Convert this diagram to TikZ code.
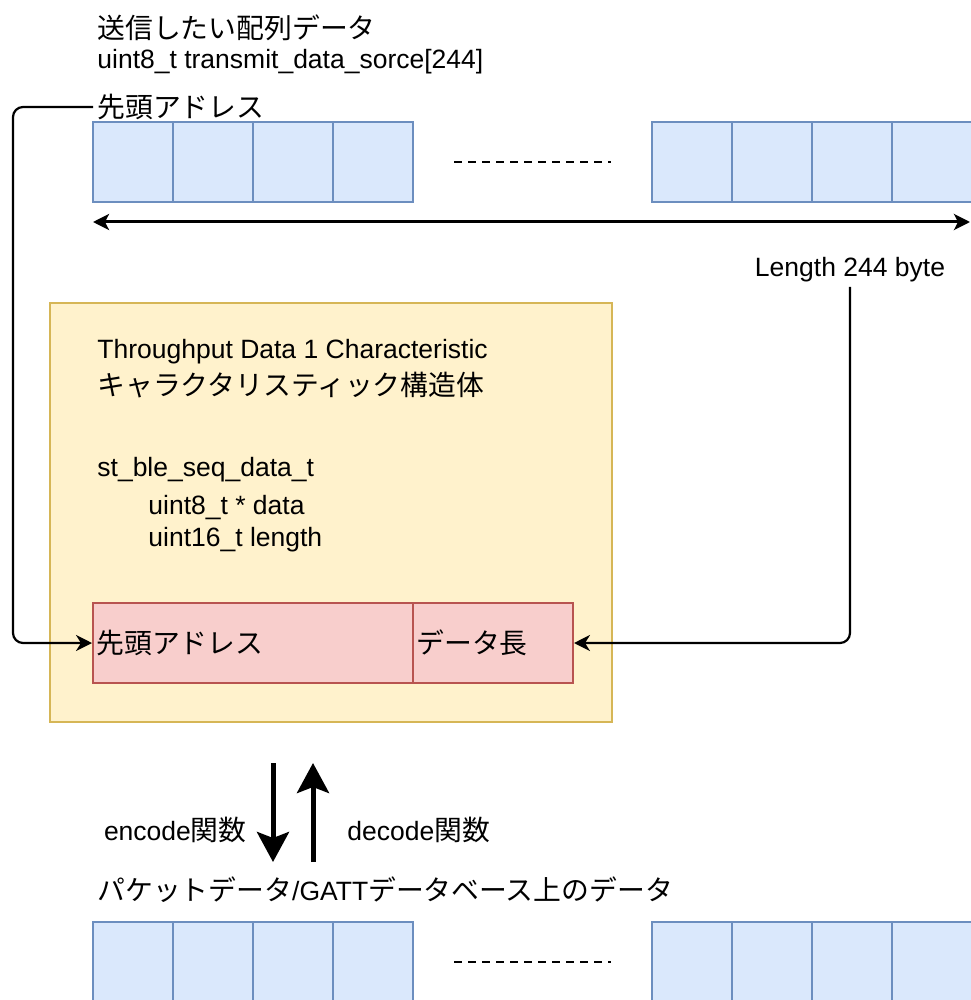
\documentclass[tikz,border=0pt]{standalone}
\usepackage{fontspec}
\setmainfont{Liberation Sans}
\newfontfamily\jpfont[Scale=1.05]{Noto Sans CJK JP}
\newcommand{\ja}[1]{{\jpfont #1}}
\usetikzlibrary{arrows.meta}

\definecolor{cellfill}{HTML}{DAE8FC}
\definecolor{cellline}{HTML}{6C8EBF}
\definecolor{chrfill}{HTML}{FFF2CC}
\definecolor{chrline}{HTML}{D6B656}
\definecolor{fldfill}{HTML}{F8CECC}
\definecolor{fldline}{HTML}{B85450}

\tikzset{
	lbl/.style={inner sep=2pt,anchor=west,font=\fontsize{13.25pt}{16pt}\selectfont},
	cell/.style={draw=cellline,fill=cellfill,line width=1pt,minimum width=40pt,minimum height=40pt,inner sep=0pt},
	field/.style={draw=fldline,fill=fldfill,line width=1pt,minimum height=40pt,inner sep=0pt},
	conn/.style={line width=1.1pt,rounded corners=5pt,-{Stealth[length=8pt,width=8pt,inset=2.5pt]}},
	dots/.style={line width=0.8pt,dash pattern=on 4pt off 3pt},
	fat/.style={line width=2.5pt,-{Stealth[length=15pt,width=16pt,inset=3pt]}}
}

\begin{document}
\begin{tikzpicture}[x=0.5pt,y=-0.5pt]
	\useasboundingbox (0,0) rectangle (970,1000);
	%
	% source array
	\node[lbl] (title) at (93,28) {\ja{送信したい配列データ}};
	\node[lbl] (decl) at (93,62) {uint8\_t transmit\_data\_sorce[244]};
	\node[lbl] (hd) at (93,107) {\ja{先頭アドレス}};
	\foreach \i in {0,...,3} {
		\node[cell] (sa\i) at ({133+80*\i},162) {};
		\node[cell] (sb\i) at ({692+80*\i},162) {};
	}
	\draw[dots] ([xshift=20pt]sa3.east) -- ([xshift=-20pt]sb0.west);
	\coordinate (lenL) at (93,222);
	\coordinate (lenR) at (970,222);
	\draw[line width=1.5pt,{Stealth[length=8pt,width=8pt,inset=2pt]}-{Stealth[length=8pt,width=8pt,inset=2pt]}] (lenL) -- (lenR);
	\node[lbl,anchor=center] (lenlbl) at (850,270) {Length 244 byte};
	%
	% characteristic struct
	\node[draw=chrline,fill=chrfill,line width=1pt,minimum width=281pt,minimum height=209.5pt] (chr) at (331,512.5) {};
	\node[lbl] (cname) at (93,352) {Throughput Data 1 Characteristic};
	\node[lbl] (cjp) at (93,385) {\ja{キャラクタリスティック構造体}};
	\node[lbl] (stype) at (93,470) {st\_ble\_seq\_data\_t};
	\node[lbl] (mdata) at (144,508) {uint8\_t * data};
	\node[lbl] (mlen) at (144,540) {uint16\_t length};
	\node[field,minimum width=160pt] (addr) at (253,643) {};
	\node[field,minimum width=80pt] (len) at (493,643) {};
	\node[lbl] at (addr.west) {\ja{先頭アドレス}};
	\node[lbl] at (len.west) {\ja{データ長}};
	%
	\coordinate (lx) at (13,0);
	\draw[conn] (hd.west) -- (hd.west -| lx) |- (addr.west);
	\draw[conn] (lenlbl.south) |- (len.east);
	%
	% encode / decode
	\coordinate (enc1) at (273,763);
	\coordinate (enc2) at (273,862);
	\coordinate (dec1) at (313,862);
	\coordinate (dec2) at (313,763);
	\draw[fat] (enc1) -- (enc2);
	\draw[fat] (dec1) -- (dec2);
	\node[lbl,anchor=east] (enc) at (251,830) {encode\ja{関数}};
	\node[lbl] (dec) at (343,830) {decode\ja{関数}};
	%
	% packet data
	\node[lbl] (pkt) at (93,890) {\ja{パケットデータ}/GATT\ja{データベース上のデータ}};
	\foreach \i in {0,...,3} {
		\node[cell] (pa\i) at ({133+80*\i},962) {};
		\node[cell] (pb\i) at ({692+80*\i},962) {};
	}
	\draw[dots] ([xshift=20pt]pa3.east) -- ([xshift=-20pt]pb0.west);
\end{tikzpicture}
\end{document}
